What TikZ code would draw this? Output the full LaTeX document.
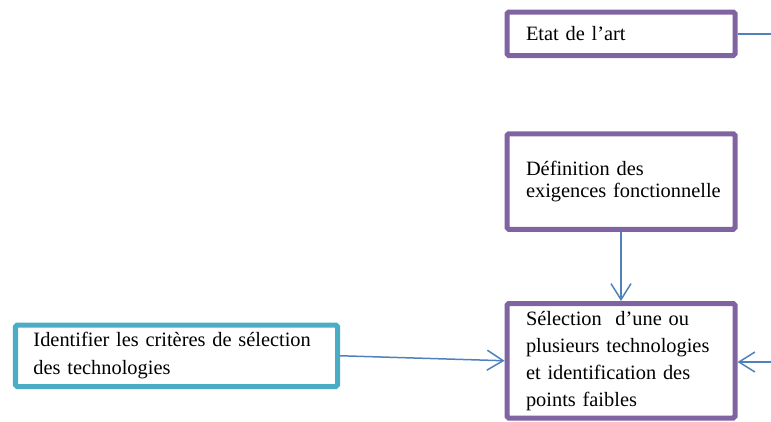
\documentclass[tikz,border=0pt]{standalone}
\usepackage{fontspec}
\setmainfont{Liberation Serif}
\usetikzlibrary{arrows.meta}

\definecolor{stepviolet}{HTML}{8064A2}
\definecolor{critteal}{HTML}{4BACC6}
\definecolor{linkblue}{HTML}{4F81BD}

\begin{document}
\begin{tikzpicture}[
        block/.style={draw=stepviolet, line width=0.1cm, rounded corners=1pt, inner xsep=0.38cm, inner ysep=0.08cm, align=left, minimum width=4.56cm, text width=3.8cm, font=\fontsize{11.6pt}{15.4pt}\selectfont},
        critblock/.style={block, draw=critteal, inner xsep=0.36cm, minimum width=6.44cm, text width=5.72cm},
        link/.style={draw=linkblue, line width=0.03cm},
        arrow/.style={link, -{Straight Barb[length=0.32cm, width=0.4cm]}}
    ]

    % Frame
    \useasboundingbox (0,0) rectangle (15.42,8.42);

    % Etat de l'art
    \node[block, minimum height=0.87cm] (etat) at (12.42,7.745) {Etat de l’art};

    % Exigences
    \node[block, minimum height=1.91cm, font=\fontsize{11.6pt}{12.8pt}\selectfont] (def) at (12.42,4.79) {Définition des\\\mbox{exigences fonctionnelle}};

    % Selection
    \node[block, minimum height=2.29cm] (sel) at (12.42,1.205) {Sélection\ \ d’une ou\\plusieurs technologies\\et identification des\\points faibles};

    % Criteres
    \node[critblock, minimum height=1.23cm, font=\fontsize{11.6pt}{15.9pt}\selectfont] (crit) at (3.53,1.305) {Identifier les critères de sélection\\des technologies};

    % Loose ends on the right
    \coordinate (etatout) at (15.42,7.745);
    \coordinate (selin) at (15.42,1.18);

    \draw[link] (etat.east) -- (etatout);
    \draw[arrow] (def.south) -- (sel.north);
    \draw[arrow] (crit.east) -- (sel.west);
    \draw[arrow] (selin) -- (selin -| sel.east);

\end{tikzpicture}
\end{document}
